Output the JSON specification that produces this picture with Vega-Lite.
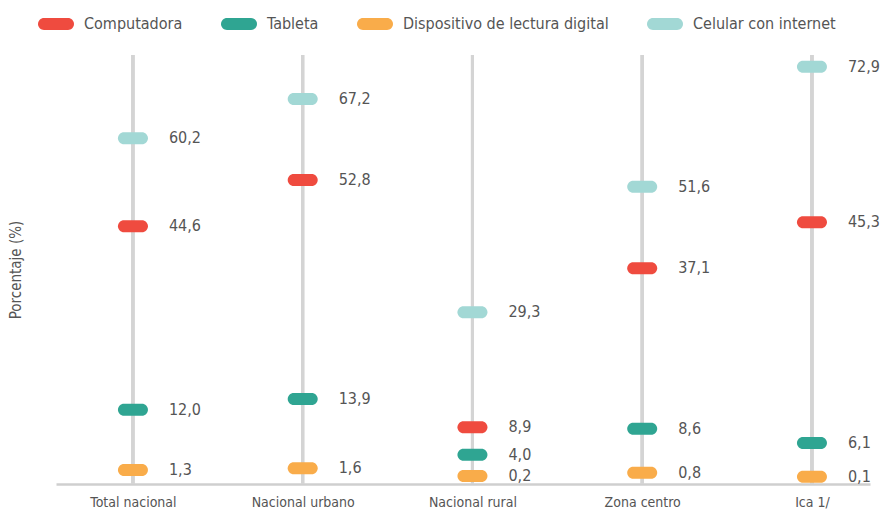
{
  "$schema": "https://vega.github.io/schema/vega-lite/v6.json",
  "autosize": {"type": "none"},
  "padding": {"left": 56, "top": 55, "right": 14, "bottom": 32},
  "width": 814,
  "height": 429,
  "background": "white",
  "data": {
    "values": [
      {"zona": "Total nacional", "dispositivo": "Computadora", "valor": 44.6},
      {"zona": "Total nacional", "dispositivo": "Tableta", "valor": 12.0},
      {"zona": "Total nacional", "dispositivo": "Dispositivo de lectura digital", "valor": 1.3},
      {"zona": "Total nacional", "dispositivo": "Celular con internet", "valor": 60.2},
      {"zona": "Nacional urbano", "dispositivo": "Computadora", "valor": 52.8},
      {"zona": "Nacional urbano", "dispositivo": "Tableta", "valor": 13.9},
      {"zona": "Nacional urbano", "dispositivo": "Dispositivo de lectura digital", "valor": 1.6},
      {"zona": "Nacional urbano", "dispositivo": "Celular con internet", "valor": 67.2},
      {"zona": "Nacional rural", "dispositivo": "Computadora", "valor": 8.9},
      {"zona": "Nacional rural", "dispositivo": "Tableta", "valor": 4.0},
      {"zona": "Nacional rural", "dispositivo": "Dispositivo de lectura digital", "valor": 0.2},
      {"zona": "Nacional rural", "dispositivo": "Celular con internet", "valor": 29.3},
      {"zona": "Zona centro", "dispositivo": "Computadora", "valor": 37.1},
      {"zona": "Zona centro", "dispositivo": "Tableta", "valor": 8.6},
      {"zona": "Zona centro", "dispositivo": "Dispositivo de lectura digital", "valor": 0.8},
      {"zona": "Zona centro", "dispositivo": "Celular con internet", "valor": 51.6},
      {"zona": "Ica 1/", "dispositivo": "Computadora", "valor": 45.3},
      {"zona": "Ica 1/", "dispositivo": "Tableta", "valor": 6.1},
      {"zona": "Ica 1/", "dispositivo": "Dispositivo de lectura digital", "valor": 0.1},
      {"zona": "Ica 1/", "dispositivo": "Celular con internet", "valor": 72.9}
    ]
  },
  "encoding": {
    "x": {
      "field": "zona",
      "type": "nominal",
      "sort": ["Total nacional", "Nacional urbano", "Nacional rural", "Zona centro", "Ica 1/"],
      "scale": {"type": "point", "padding": 0.3976, "align": 0.57},
      "axis": {
        "title": null,
        "labelAngle": 0,
        "ticks": false,
        "tickSize": 0,
        "labelPadding": 11,
        "labelFontSize": 14,
        "labelColor": "#555555",
        "domainColor": "#cfcfcf",
        "domainWidth": 2.5,
        "grid": false
      }
    }
  },
  "layer": [
    {
      "mark": {"type": "rule", "color": "#d4d4d4", "strokeWidth": 3},
      "encoding": {}
    },
    {
      "mark": {"type": "tick", "size": 30, "thickness": 12, "cornerRadius": 6, "opacity": 1},
      "encoding": {
        "y": {
          "field": "valor",
          "type": "quantitative",
          "scale": {"domain": [-1.2, 75], "nice": false, "zero": false},
          "axis": {
            "title": "Porcentaje (%)",
            "labels": false,
            "ticks": false,
            "domain": false,
            "grid": false,
            "titleFontSize": 15,
            "titleFontWeight": "normal",
            "titleColor": "#555555",
            "titlePadding": 33
          }
        },
        "color": {
          "field": "dispositivo",
          "type": "nominal",
          "scale": {
            "domain": ["Computadora", "Tableta", "Dispositivo de lectura digital", "Celular con internet"],
            "range": ["#EF4B3F", "#2FA592", "#F9AC4A", "#A2D8D5"]
          },
          "legend": {
            "title": null,
            "orient": "none",
            "direction": "horizontal",
            "legendX": -18,
            "legendY": -49,
            "symbolType": "M -0.667 -0.333 L 0.667 -0.333 A 0.333 0.333 0 0 1 0.667 0.333 L -0.667 0.333 A 0.333 0.333 0 0 1 -0.667 -0.333 Z",
            "symbolSize": 1296,
            "symbolStrokeWidth": 0,
            "symbolOpacity": 1,
            "labelFontSize": 16,
            "labelColor": "#555555",
            "labelOffset": 10,
            "columnPadding": 38,
            "labelLimit": 400
          }
        }
      }
    },
    {
      "mark": {"type": "text", "align": "left", "baseline": "middle", "dx": 36, "fontSize": 16, "color": "#555555"},
      "encoding": {
        "y": {"field": "valor", "type": "quantitative"},
        "text": {"field": "valor", "type": "quantitative", "format": ".1f"}
      }
    }
  ],
  "config": {
    "font": "DejaVu Sans Condensed, Liberation Sans, sans-serif",
    "view": {"stroke": null},
    "locale": {"number": {"decimal": ",", "thousands": ".", "grouping": [3], "currency": ["", ""]}}
  }
}
